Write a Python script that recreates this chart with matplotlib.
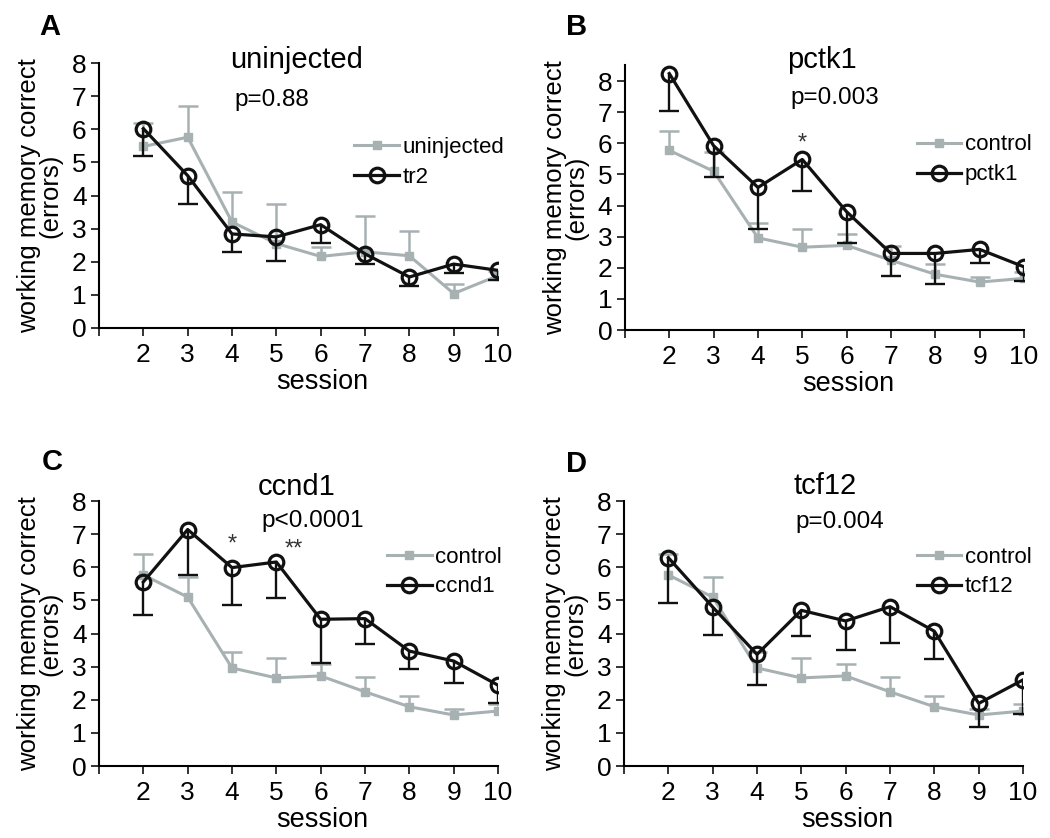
import matplotlib
matplotlib.use("Agg")
import matplotlib.pyplot as plt
import numpy as np

plt.rcParams["font.family"] = ["Liberation Sans", "DejaVu Sans"]

sessions = [2, 3, 4, 5, 6, 7, 8, 9, 10]

# panel A: uninjected vs tr2
uninj_mean = [5.48, 5.76, 3.2, 2.55, 2.16, 2.3, 2.18, 1.04, 1.58]
uninj_err = [0.72, 0.95, 0.9, 1.2, 0.3, 1.07, 0.74, 0.3, 0.15]
tr2_mean = [6.02, 4.6, 2.84, 2.75, 3.12, 2.24, 1.54, 1.93, 1.74]
tr2_err = [0.82, 0.85, 0.55, 0.72, 0.56, 0.31, 0.26, 0.27, 0.28]

# shared control for B, C, D
control_mean = [5.77, 5.1, 2.96, 2.66, 2.72, 2.24, 1.79, 1.54, 1.66]
control_err = [0.63, 0.62, 0.49, 0.6, 0.36, 0.45, 0.33, 0.17, 0.2]

pctk1_mean = [8.24, 5.92, 4.58, 5.48, 3.8, 2.46, 2.46, 2.59, 2.03]
pctk1_err = [1.21, 1.0, 1.35, 1.0, 1.02, 0.73, 0.98, 0.45, 0.45]

ccnd1_mean = [5.56, 7.14, 5.99, 6.16, 4.43, 4.45, 3.47, 3.17, 2.44]
ccnd1_err = [1.01, 1.38, 1.14, 1.1, 1.31, 0.78, 0.53, 0.65, 0.55]

tcf12_mean = [6.29, 4.8, 3.37, 4.7, 4.38, 4.81, 4.07, 1.89, 2.6]
tcf12_err = [1.36, 0.83, 0.93, 0.76, 0.88, 1.09, 0.83, 0.7, 1.04]

GRAY = "#a8b1b2"
BLACK = "#111111"

fig = plt.figure(figsize=(10.5, 8.38), dpi=100)

panels = [
    # letter, axes rect, ylim top, title, p text, ref label, gene label, ref, ref err, gene, gene err
    ("A", [0.0943, 0.6086, 0.380, 0.3162], 8.0, "uninjected", "p=0.88",
     "uninjected", "tr2", uninj_mean, uninj_err, tr2_mean, tr2_err),
    ("B", [0.5952, 0.6062, 0.380, 0.3157], 8.5, "pctk1", "p=0.003",
     "control", "pctk1", control_mean, control_err, pctk1_mean, pctk1_err),
    ("C", [0.0943, 0.0859, 0.380, 0.3162], 8.0, "ccnd1", "p<0.0001",
     "control", "ccnd1", control_mean, control_err, ccnd1_mean, ccnd1_err),
    ("D", [0.5943, 0.0859, 0.380, 0.3162], 8.0, "tcf12", "p=0.004",
     "control", "tcf12", control_mean, control_err, tcf12_mean, tcf12_err),
]

title_pos = {"A": (0.496, 1.01), "B": (0.494, 1.02), "C": (0.496, 1.053), "D": (0.504, 1.057)}
p_pos = {"A": (0.34, 0.86), "B": (0.414, 0.877), "C": (0.406, 0.925), "D": (0.429, 0.92)}
legend_pos = {"A": (0.64, 0.626), "B": (0.732, 0.643), "C": (0.722, 0.732), "D": (0.734, 0.732)}
letter_pos = {"A": (50, 27), "B": (577, 27), "C": (52, 462), "D": (577, 464)}


def one_sided_errors(ax, x, mean, err, sign, color, lw, zorder):
    """Draw error bars going only up (sign=+1) or only down (sign=-1)."""
    mean = np.asarray(mean)
    end = mean + sign * np.asarray(err)
    ax.vlines(x, mean, end, color=color, linewidth=lw, zorder=zorder)
    ax.plot(x, end, linestyle="none", marker="_", markersize=14,
            markeredgewidth=lw, color=color, zorder=zorder)


for (letter, rect, ytop, title, ptext, ref_label, gene_label,
     ref_mean, ref_err, gene_mean, gene_err) in panels:
    ax = fig.add_axes(rect)

    one_sided_errors(ax, sessions, ref_mean, ref_err, +1, GRAY, 1.8, 2)
    ax.plot(sessions, ref_mean, color=GRAY, marker="s", markersize=5.5,
            linewidth=2.2, label=ref_label, zorder=2)

    one_sided_errors(ax, sessions, gene_mean, gene_err, -1, BLACK, 1.7, 3)
    ax.plot(sessions, gene_mean, color=BLACK, marker="o", markersize=10.5,
            markerfacecolor="none", markeredgewidth=2.3, linewidth=2.3,
            label=gene_label, zorder=3)

    ax.set_xlim(1, 10)
    ax.set_ylim(0, ytop)
    ax.set_xticks(range(1, 11))
    ax.set_xticklabels([""] + [str(s) for s in sessions])
    ax.set_yticks(range(0, 9))
    for side in ("top", "right"):
        ax.spines[side].set_visible(False)
    for side in ("left", "bottom"):
        ax.spines[side].set_linewidth(1.5)
    ax.spines["left"].set_bounds(0, ytop)
    ax.tick_params(axis="both", direction="out", length=6, width=1.2,
                   labelsize=19, color=BLACK)
    ax.tick_params(axis="y", pad=3)
    ax.tick_params(axis="x", pad=5)

    ax.set_ylabel("working memory correct\n(errors)", fontsize=18.5,
                  linespacing=0.88, multialignment="center")
    ax.yaxis.set_label_coords(-0.092, 0.5)
    ax.set_xlabel("session", fontsize=19.5)
    ax.xaxis.set_label_coords(0.56, -0.155)

    ax.text(*title_pos[letter], title, transform=ax.transAxes, fontsize=21,
            ha="center", va="center")
    ax.text(*p_pos[letter], ptext, transform=ax.transAxes, fontsize=17.5,
            ha="left", va="center")

    ax.legend(loc="center left", bbox_to_anchor=legend_pos[letter],
              frameon=False, fontsize=16, handlelength=2.0,
              handletextpad=0.15, borderpad=0, borderaxespad=0,
              labelspacing=0.4)

    lx, ly = letter_pos[letter]
    fig.text(lx / 1050, 1 - ly / 838, letter, fontsize=21, fontweight="bold",
             ha="center", va="center")

# significance marks
fig.axes[1].text(5, 6.0, "*", ha="center", va="center", fontsize=17, color="#333333")
fig.axes[2].text(4, 6.7, "*", ha="center", va="center", fontsize=17, color="#333333")
fig.axes[2].text(5.4, 6.55, "**", ha="center", va="center", fontsize=17, color="#333333")

fig.savefig("out.png", dpi=100)
